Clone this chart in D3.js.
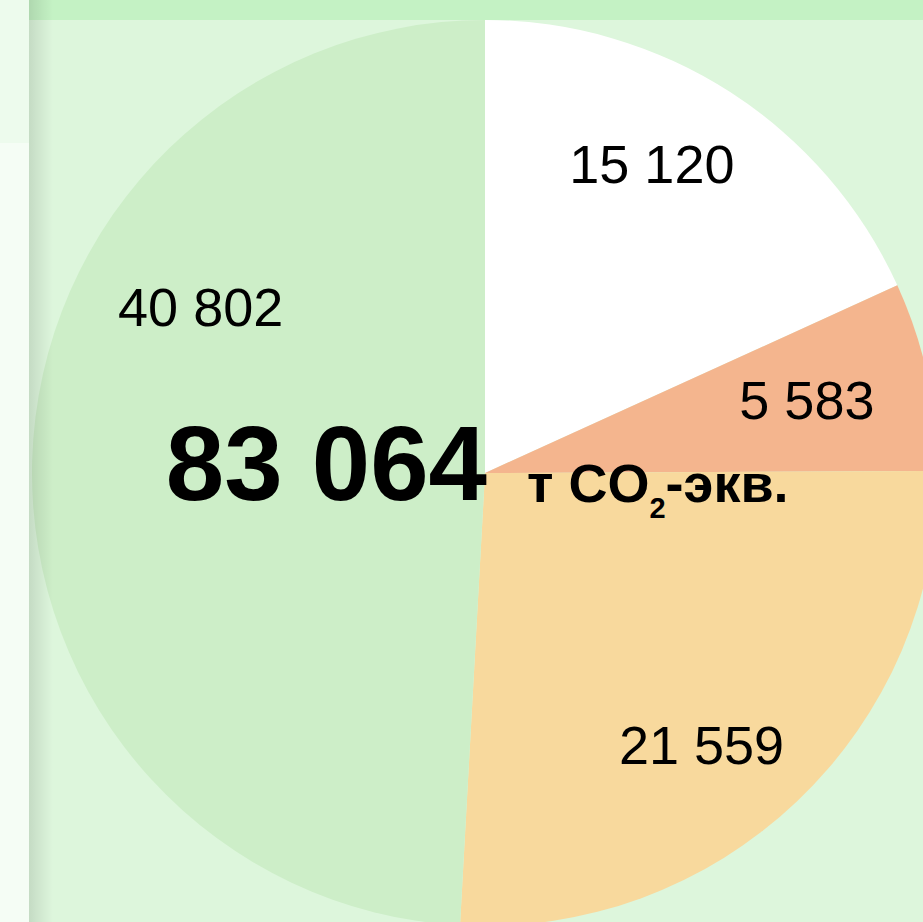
<!DOCTYPE html>
<html>
<head>
<meta charset="utf-8">
<script src="https://cdn.jsdelivr.net/npm/d3@7"></script>
<style>
  html, body { margin: 0; padding: 0; background: #ddf6dc; overflow: hidden; }
  svg { display: block; }
</style>
</head>
<body>
<svg id="chart" width="923" height="922"></svg>
<script>
// Emission breakdown, t CO2-eq.
const categories = ["A", "B", "C", "D"];
const values = [15120, 5583, 21559, 40802];
const valueLabels = ["15 120", "5 583", "21 559", "40 802"];
const totalLabel = "83 064";
const unitMain = "т CO";
const unitSub = "2";
const unitTail = "-экв.";

// slice fills, in the same order as the values
const colors = ["#ffffff", "#f4b58e", "#f8d99d", "#cdeec8"];
// label placement: angle (deg, clockwise from 12 o'clock) and radius as share of pie radius
const labelPlace = [
  { angle: 28.3, r: 0.777 },
  { angle: 77.1, r: 0.729 },
  { angle: 141.4, r: 0.766 },
  { angle: 300.3, r: 0.727 }
];

const W = 923, H = 922;
const cx = 485, cy = 473, R = 453;

const svg = d3.select("#chart");

// page backdrop
svg.append("rect").attr("width", W).attr("height", H).attr("fill", "#ddf6dc");

const defs = svg.append("defs");
const shade = defs.append("linearGradient").attr("id", "edgeShade")
  .attr("x1", "0").attr("x2", "1").attr("y1", "0").attr("y2", "0");
shade.append("stop").attr("offset", "0").attr("stop-color", "#000").attr("stop-opacity", 0.11);
shade.append("stop").attr("offset", "0.35").attr("stop-color", "#000").attr("stop-opacity", 0.07);
shade.append("stop").attr("offset", "1").attr("stop-color", "#000").attr("stop-opacity", 0);

// pie
const pie = d3.pie().sort(null).value(d => d).startAngle(0).endAngle(2 * Math.PI);
const arc = d3.arc().innerRadius(0).outerRadius(R);
const arcs = pie(values);

const g = svg.append("g").attr("transform", `translate(${cx},${cy})`);
g.selectAll("path.slice")
  .data(arcs)
  .join("path")
  .attr("class", "slice")
  .attr("d", arc)
  .attr("fill", (d, i) => colors[i]);

// value labels
g.selectAll("text.val")
  .data(arcs)
  .join("text")
  .attr("class", "val")
  .attr("x", (d, i) => Math.sin(labelPlace[i].angle * Math.PI / 180) * labelPlace[i].r * R)
  .attr("y", (d, i) => -Math.cos(labelPlace[i].angle * Math.PI / 180) * labelPlace[i].r * R)
  .attr("dy", "0.36em")
  .attr("text-anchor", "middle")
  .attr("font-family", "'Liberation Sans', Arial, Helvetica, sans-serif")
  .attr("font-size", 54)
  .attr("fill", "#000")
  .text((d, i) => valueLabels[i]);

// total in the middle
g.append("text")
  .attr("x", 2).attr("y", 27)
  .attr("text-anchor", "end")
  .attr("font-family", "'Liberation Sans', Arial, Helvetica, sans-serif")
  .attr("font-weight", "bold")
  .attr("font-size", 105)
  .attr("fill", "#000")
  .text(totalLabel);

const unit = g.append("text")
  .attr("x", 42).attr("y", 29)
  .attr("font-family", "'Liberation Sans', Arial, Helvetica, sans-serif")
  .attr("font-weight", "bold")
  .attr("font-size", 54)
  .attr("fill", "#000");
unit.append("tspan").text(unitMain);
unit.append("tspan").attr("font-size", 29).attr("dy", 16).text(unitSub);
unit.append("tspan").attr("dy", -16).text(unitTail);

// header band and side panel
svg.append("rect").attr("x", 0).attr("y", 0).attr("width", W).attr("height", 20).attr("fill", "#c4f2c4");
svg.append("rect").attr("x", 0).attr("y", 0).attr("width", 29).attr("height", 143).attr("fill", "#edfbed");
svg.append("rect").attr("x", 0).attr("y", 143).attr("width", 29).attr("height", H - 143).attr("fill", "#f5fdf5");

// soft shadow cast by the side panel
svg.append("rect").attr("x", 29).attr("y", 0).attr("width", 24).attr("height", H).attr("fill", "url(#edgeShade)");
</script>
</body>
</html>
